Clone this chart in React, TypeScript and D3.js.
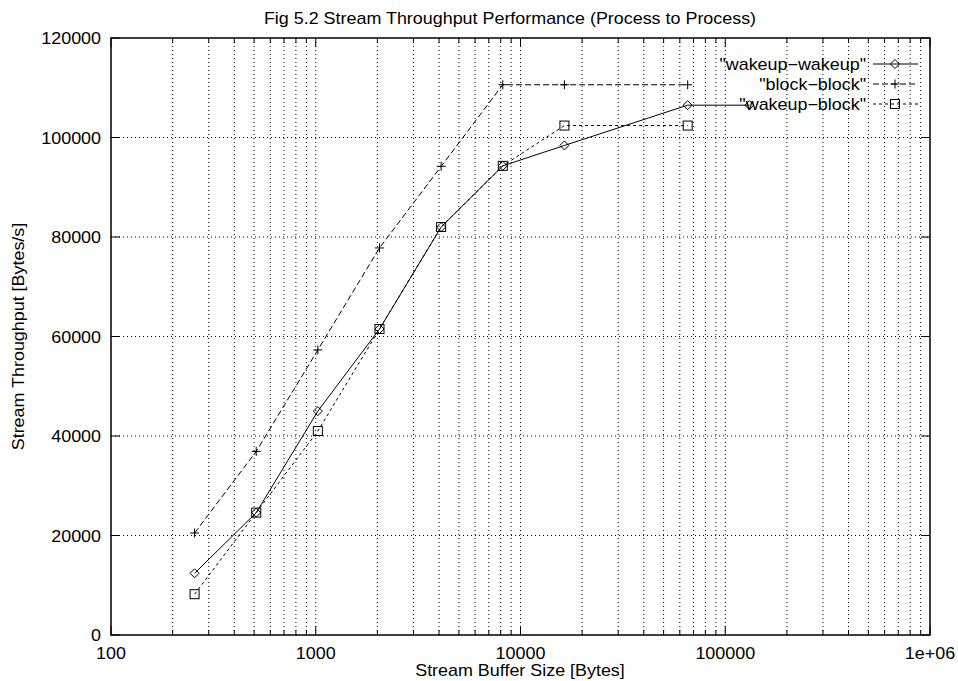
import React from "react";
import * as d3 from "d3";

const bufferSizes = [256, 512, 1024, 2048, 4096, 8192, 16384, 65536, 131072];
const wakeupWakeup = [12400, 24600, 45000, 61500, 82000, 94300, 98400, 106500, 106500];
const blockSizes = [256, 512, 1024, 2048, 4096, 8192, 16384, 65536];
const blockBlock = [20500, 36900, 57300, 77800, 94200, 110600, 110600, 110600];
const wakeupBlock = [8200, 24600, 41000, 61500, 82000, 94300, 102400, 102400];
const xTickValues = [100, 1000, 10000, 100000, 1000000];
const xTickLabels = ["100", "1000", "10000", "100000", "1e+06"];
const yTickValues = [0, 20000, 40000, 60000, 80000, 100000, 120000];
const seriesNames = ['"wakeup\u2212wakeup"', '"block\u2212block"', '"wakeup\u2212block"'];

const W = 958, H = 681;
const L = 111, R = 930, T = 38, B = 635;
const FONT = "'Liberation Sans', Arial, Helvetica, sans-serif";
const FS = 16;
const SX = 1.12;

function Txt(props: { x: number; y: number; anchor?: string; rotate?: number; children: React.ReactNode }) {
  const { x, y, anchor, rotate, children } = props;
  const tr = rotate ? `translate(${x},${y}) rotate(${rotate}) scale(${SX},1)` : `translate(${x},${y}) scale(${SX},1)`;
  return (
    <text transform={tr} textAnchor={anchor || "start"} fontSize={FS} fill="#000">{children}</text>
  );
}

export default function App() {
  const x = d3.scaleLog().domain([100, 1e6]).range([L, R]);
  const y = d3.scaleLinear().domain([0, 120000]).range([B, T]);

  const minorX: number[] = [];
  for (let d = 100; d < 1e6; d *= 10) for (let k = 2; k <= 9; k++) minorX.push(d * k);

  const line = d3.line<[number, number]>().x(d => x(d[0])).y(d => y(d[1]));
  const ww = bufferSizes.map((s, i) => [s, wakeupWakeup[i]] as [number, number]);
  const bb = blockSizes.map((s, i) => [s, blockBlock[i]] as [number, number]);
  const wb = blockSizes.map((s, i) => [s, wakeupBlock[i]] as [number, number]);

  const diamond = (cx: number, cy: number, k: string) => (
    <path key={k} d={`M${cx},${cy - 4.5}L${cx + 4.5},${cy}L${cx},${cy + 4.5}L${cx - 4.5},${cy}Z`} fill="none" stroke="#000" strokeWidth={1} />
  );
  const plus = (cx: number, cy: number, k: string) => (
    <path key={k} d={`M${cx - 4.5},${cy}H${cx + 4.5}M${cx},${cy - 4.5}V${cy + 4.5}`} stroke="#000" strokeWidth={1} />
  );
  const square = (cx: number, cy: number, k: string) => (
    <rect key={k} x={cx - 4.5} y={cy - 4.5} width={9} height={9} fill="none" stroke="#000" strokeWidth={1} />
  );

  const legendY = [64, 84, 104];
  const dashes = [undefined, "6,3", "3,3"];
  const markers = [diamond, plus, square];

  return (
    <svg width={W} height={H} style={{ position: "absolute", left: 0, top: 0, background: "#fff" }} fontFamily={FONT}>
      <rect x={0} y={0} width={W} height={H} fill="#fff" />
      {/* grid */}
      <g stroke="#000" strokeWidth={1} strokeDasharray="1,3" fill="none">
        {[...xTickValues.slice(1, -1), ...minorX].map((v, i) => (
          <line key={"gx" + i} x1={x(v)} x2={x(v)} y1={T} y2={B} />
        ))}
        {yTickValues.slice(1, -1).map((v, i) => (
          <line key={"gy" + i} x1={L} x2={R} y1={y(v)} y2={y(v)} />
        ))}
      </g>
      {/* ticks */}
      <g stroke="#000" strokeWidth={1}>
        {xTickValues.map((v, i) => (
          <g key={"tx" + i}>
            <line x1={x(v)} x2={x(v)} y1={B} y2={B - 9} />
            <line x1={x(v)} x2={x(v)} y1={T} y2={T + 9} />
          </g>
        ))}
        {minorX.map((v, i) => (
          <g key={"mx" + i}>
            <line x1={x(v)} x2={x(v)} y1={B} y2={B - 5} />
            <line x1={x(v)} x2={x(v)} y1={T} y2={T + 5} />
          </g>
        ))}
        {yTickValues.map((v, i) => (
          <g key={"ty" + i}>
            <line x1={L} x2={L + 9} y1={y(v)} y2={y(v)} />
            <line x1={R} x2={R - 9} y1={y(v)} y2={y(v)} />
          </g>
        ))}
      </g>
      <rect x={L} y={T} width={R - L} height={B - T} fill="none" stroke="#000" strokeWidth={1.5} />
      {/* tick labels */}
      {yTickValues.map((v, i) => (
        <Txt key={"yl" + i} x={L - 10} y={y(v) + 6} anchor="end">{String(v)}</Txt>
      ))}
      {xTickValues.map((v, i) => (
        <Txt key={"xl" + i} x={x(v)} y={B + 24} anchor="middle">{xTickLabels[i]}</Txt>
      ))}
      <Txt x={510} y={24} anchor="middle">Fig 5.2 Stream Throughput Performance (Process to Process)</Txt>
      <Txt x={520} y={676} anchor="middle">Stream Buffer Size [Bytes]</Txt>
      <Txt x={24} y={(T + B) / 2} anchor="middle" rotate={-90}>Stream Throughput [Bytes/s]</Txt>

      {/* series */}
      <path d={line(ww) || ""} fill="none" stroke="#000" strokeWidth={1} />
      <path d={line(bb) || ""} fill="none" stroke="#000" strokeWidth={1} strokeDasharray="6,3" />
      <path d={line(wb) || ""} fill="none" stroke="#000" strokeWidth={1} strokeDasharray="3,3" />
      {ww.map((d, i) => diamond(x(d[0]), y(d[1]), "dw" + i))}
      {bb.map((d, i) => plus(x(d[0]), y(d[1]), "pb" + i))}
      {wb.map((d, i) => square(x(d[0]), y(d[1]), "sq" + i))}

      {/* legend */}
      {seriesNames.map((name, i) => (
        <g key={"lg" + i}>
          <Txt x={866} y={legendY[i] + 6} anchor="end">{name}</Txt>
          <line x1={873} x2={918} y1={legendY[i]} y2={legendY[i]} stroke="#000" strokeWidth={1} strokeDasharray={dashes[i]} />
          {markers[i](895, legendY[i], "lm" + i)}
        </g>
      ))}
    </svg>
  );
}
